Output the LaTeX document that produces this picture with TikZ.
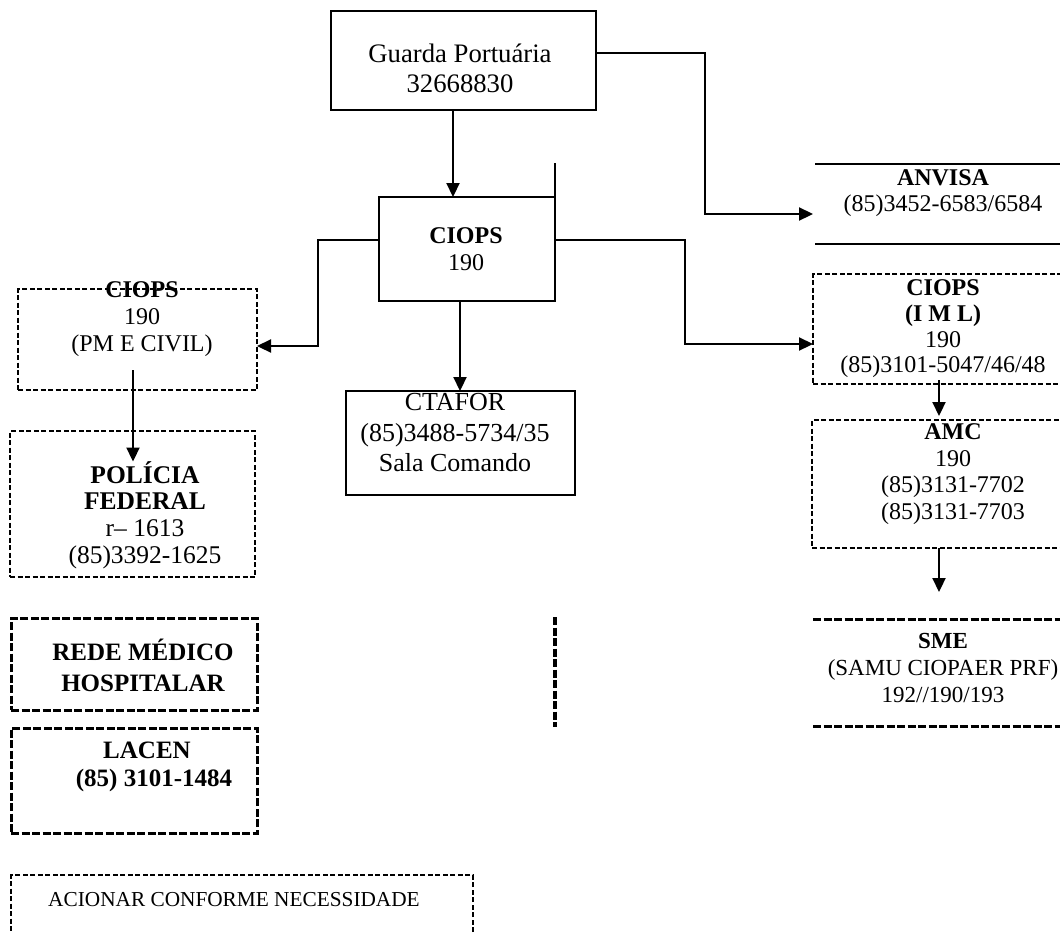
\documentclass[tikz,border=0pt]{standalone}
\usepackage{fontspec}
\setmainfont{Liberation Serif}
\usetikzlibrary{arrows.meta,calc}
\begin{document}
\begin{tikzpicture}[x=1pt,y=-1pt,
  solidbox/.style={draw,line width=1.9pt,inner sep=0pt,outer sep=0pt},
  thinbox/.style={draw,line width=1.5pt,dash pattern=on 5pt off 2.5pt,inner sep=0pt,outer sep=0pt},
  heavybox/.style={draw,line width=3pt,dash pattern=on 8pt off 2.5pt,inner sep=0pt,outer sep=0pt},
  ghost/.style={inner sep=0pt,outer sep=0pt},
  txt/.style={align=center,inner sep=0pt,font=\fontsize{24}{26.5}\selectfont},
  arr/.style={line width=2.2pt,-{Triangle[length=14pt,width=13pt]}}]
\useasboundingbox (0,0) rectangle (1060,932);
\clip (0,0) rectangle (1060,932);

% boxes
\node[solidbox,minimum width=265pt,minimum height=99pt] (guarda) at (463.5,60.5) {};
\node[solidbox,minimum width=176pt,minimum height=104pt] (ciops) at (467,249) {};
\node[thinbox,minimum width=239pt,minimum height=101pt] (ciopsPM) at (137.5,339.5) {};
\node[thinbox,minimum width=245pt,minimum height=146pt] (policia) at (132.5,504) {};
\node[solidbox,minimum width=229pt,minimum height=104pt] (ctafor) at (460.5,443) {};
\node[thinbox,minimum width=257pt,minimum height=110pt] (ciopsIML) at (941.5,329) {};
\node[thinbox,minimum width=258pt,minimum height=128pt] (amc) at (941,484) {};
\node[heavybox,minimum width=246pt,minimum height=92pt] (rede) at (134,664) {};
\node[heavybox,minimum width=246pt,minimum height=105pt] (lacen) at (134,780.5) {};
\node[thinbox,minimum width=462pt,minimum height=75pt] (acionar) at (242,912.5) {};
\node[ghost,minimum width=257pt,minimum height=80pt] (anvisa) at (941.5,204) {};
\node[ghost,minimum width=257pt,minimum height=107pt] (sme) at (941.5,672.5) {};

\draw[line width=1.9pt] ([xshift=2pt]anvisa.north west) -- (anvisa.north east);
\draw[line width=1.9pt] ([xshift=2pt]anvisa.south west) -- (anvisa.south east);
\draw[line width=3pt,dash pattern=on 8pt off 2.5pt] (sme.north west) -- (sme.north east);
\draw[line width=3pt,dash pattern=on 8pt off 2.5pt] (sme.south west) -- (sme.south east);

% stray line at CIOPS
\draw[line width=1.9pt] ([yshift=34pt]ciops.north east) -- ([yshift=-23pt]ciops.north east);

% vertical dashed line
\coordinate (vd1) at (555,617);
\coordinate (vd2) at (555,727);
\draw[line width=3.2pt,dash pattern=on 8pt off 2.5pt] (vd1) -- (vd2);

% texts
\node[txt,font=\fontsize{26.7}{30}\selectfont] (tguarda) at (460,68) {Guarda Portuária\\32668830};
\node[txt] (tciops) at (466,249) {\textbf{CIOPS}\\190};
\node[txt] (tanvisa) at (943,193) {\textbf{ANVISA}\\(85)3452-6583/6584};
\node[txt,font=\fontsize{24}{27}\selectfont] (tciopsPM) at (142,319) {\textbf{CIOPS}\\190\\(PM E CIVIL)};
\node[txt,font=\fontsize{25.5}{26.7}\selectfont] (tpolicia) at (145,515) {\textbf{POLÍCIA}\\\textbf{FEDERAL}\\r– 1613\\(85)3392-1625};
\node[txt,font=\fontsize{26}{30.5}\selectfont] (tctafor) at (455,433) {CTAFOR\\(85)3488-5734/35\\Sala Comando};
\node[txt,font=\fontsize{24}{25.7}\selectfont] (timl) at (943,329) {\textbf{CIOPS}\\\textbf{(I M L)}\\190\\(85)3101-5047/46/48};
\node[txt,font=\fontsize{24}{26.7}\selectfont] (tamc) at (953,474) {\textbf{AMC}\\190\\(85)3131-7702\\(85)3131-7703};
\node[txt,font=\fontsize{23}{27}\selectfont] (tsme) at (943,668) {\textbf{SME}\\(SAMU CIOPAER PRF)\\192//190/193};
\node[txt,font=\fontsize{25}{31}\bfseries] (trede) at (143,665) {REDE MÉDICO\\HOSPITALAR};
\node[txt,font=\fontsize{25}{28}\bfseries] (tlacen) at (154,767) {\hspace*{-14pt}LACEN\\(85) 3101-1484};
\node[txt,font=\fontsize{21.3}{24}\selectfont] (tacionar) at (234,900) {ACIONAR CONFORME NECESSIDADE};

% connectors
\draw[arr] ([xshift=-10.5pt]guarda.south) -- ([xshift=-10.5pt]guarda.south |- ciops.north);
\draw[arr] ([yshift=7.5pt]guarda.east) -- ++(109,0) |- ([yshift=-10pt]anvisa.west);
\draw[arr] ([yshift=9pt]ciops.west) -- ++(-61,0) |- ([yshift=-6.5pt]ciopsPM.east);
\draw[arr] ([yshift=9pt]ciops.east) -- ++(130,0) |- ([yshift=-15pt]ciopsIML.west);
\draw[arr] ([xshift=-7pt]ciops.south) -- ([xshift=-7pt]ciops.south |- ctafor.north);
\draw[arr] ([xshift=-4.5pt,yshift=-30.5pt]ciopsPM.center) -- ([xshift=-4.5pt,yshift=-30.5pt]ciopsPM.center |- policia.north);
\draw[arr] ([xshift=-2.5pt,yshift=4pt]ciopsIML.south) -- ([xshift=-2.5pt,yshift=4pt]ciopsIML.south |- amc.north);
\coordinate (amcend) at (939,592);
\draw[arr] (amc.south -| amcend) -- (amcend);
\end{tikzpicture}
\end{document}
